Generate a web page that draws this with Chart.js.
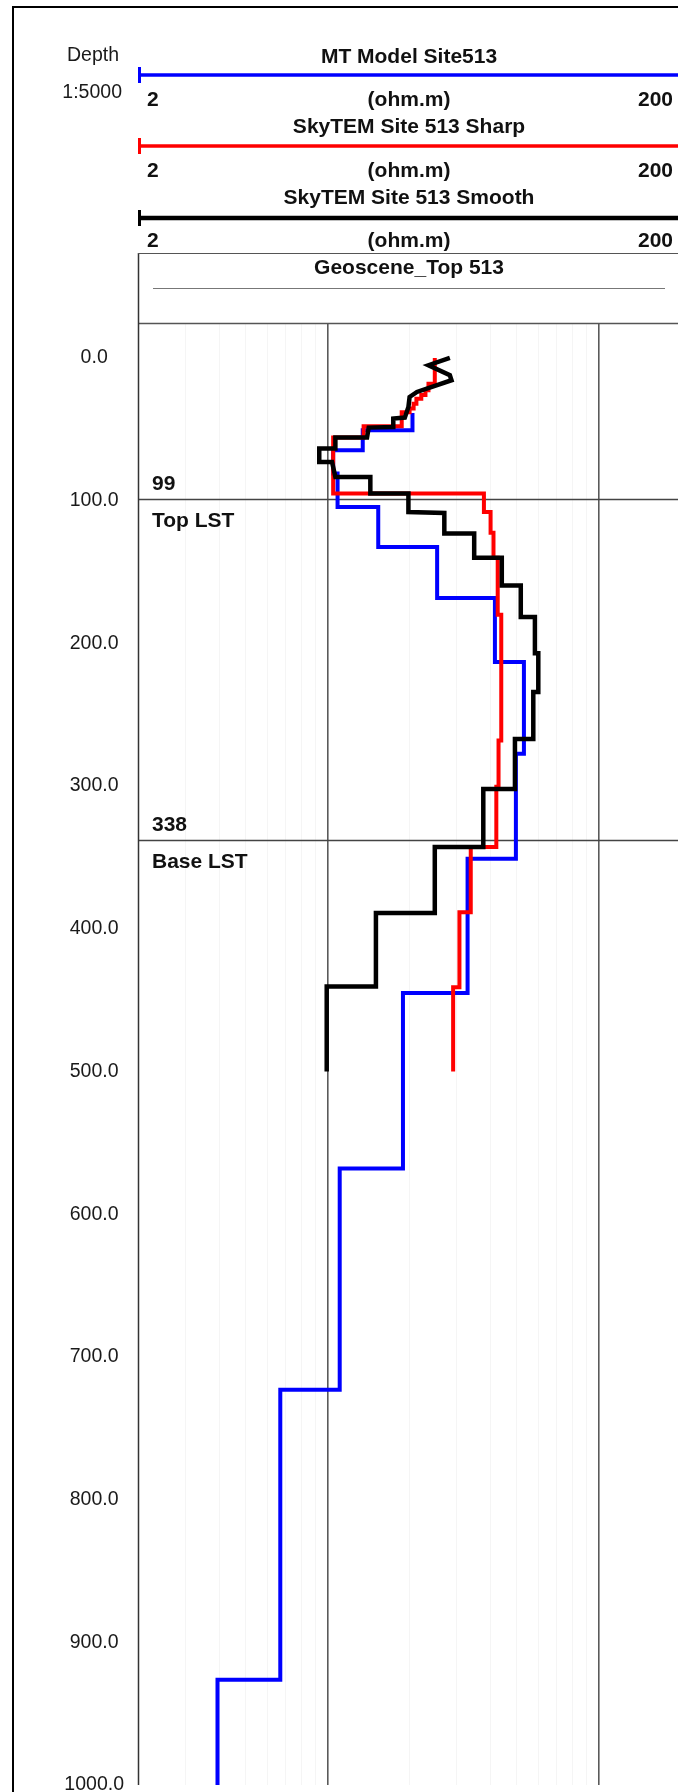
<!DOCTYPE html>
<html>
<head>
<meta charset="utf-8">
<script src="https://cdn.jsdelivr.net/npm/chart.js@4.4.1/dist/chart.umd.min.js"></script>
<style>
  html, body { margin: 0; padding: 0; overflow: hidden; background: #fff; }
  #wrap { width: 678px; height: 1792px; overflow: hidden; position: relative; }
  canvas { display: block; }
</style>
</head>
<body>
<div id="wrap"><canvas id="log" width="680" height="1792"></canvas></div>
<script>
// ---- axes ----
const resMin = 2, resMax = 200;              // ohm.m, log scale
const depthMin = -24.5, depthMax = 1000;     // m, increasing downwards
const depthTicks = [0, 100, 200, 300, 400, 500, 600, 700, 800, 900, 1000];
const resGridValues = [2, 3, 4, 5, 6, 7, 8, 9, 10, 20, 30, 40, 50, 60, 70, 80, 90, 100, 200];
const resMajorGrid = [10, 100];

// ---- MT Model Site513: layer tops (m) and resistivity (ohm.m) ----
const mtTops = [38.5, 50.7, 64.6, 81, 104.5, 132.4, 168.2, 213, 277.3, 351, 445, 568, 723, 926.3];
const mtRes  = [20.6, 13.5, 10.5, 10.9, 15.4, 25.4, 41.5, 53.1, 49.6, 32.9, 19.0, 11.1, 6.7, 3.93];
const mtBase = 1000;

// ---- SkyTEM Site 513 Sharp: layer tops (m) and resistivity (ohm.m) ----
const sharpTops = [0, 18, 22.6, 26, 28.5, 32, 35.5, 38, 47.9, 55.8, 95, 108, 122.5, 140, 180, 268, 300.5, 342.7, 388.5, 441];
const sharpRes  = [24.9, 23.6, 23.0, 22.2, 21.3, 20.8, 20.1, 18.8, 13.6, 10.5, 37.8, 40.0, 41.0, 42.5, 43.8, 42.8, 42.0, 33.8, 30.7, 29.1];
const sharpBase = 500;

// ---- SkyTEM Site 513 Smooth: curve vertices, depth (m) and resistivity (ohm.m) ----
const smoothDepth = [0, 5.1, 12.1, 15.6, 20.3, 23.8, 27.3, 34.3, 41.8, 42.5,
  48.4, 48.8, 55.8, 55.8, 63.5, 63.5, 72.9, 72.9, 83.4, 83.4,
  95, 95, 108, 108.6, 123, 123, 140, 140, 159.5, 159.5,
  181.5, 181.5, 207, 207, 234, 234, 267, 267, 302, 302,
  342.7, 342.7, 389, 389, 440.5, 440.5, 500];
const smoothRes = [28.3, 23.6, 28.3, 28.7, 24.3, 21.4, 20.1, 19.9, 19.3, 17.5,
  17.5, 14.2, 14.0, 10.7, 10.7, 9.33, 9.33, 10.4, 10.7, 14.4,
  14.4, 19.9, 19.9, 27.0, 27.0, 34.8, 34.8, 44.0, 44.0, 51.7,
  51.7, 58.3, 58.3, 60.0, 60.0, 57.5, 57.5, 49.2, 49.2, 37.6,
  37.6, 24.9, 24.9, 15.1, 15.1, 9.94, 9.94];

// ---- formation picks (Geoscene_Top 513) ----
const formationDepths = [99, 338];
const formationNames = ['Top LST', 'Base LST'];

// ---- track headers ----
const trackTitles = ['MT Model Site513', 'SkyTEM Site 513 Sharp', 'SkyTEM Site 513 Smooth'];
const trackColors = ['#0000ff', '#ff0000', '#000000'];
const resUnit = '(ohm.m)';

const FONT = '"Liberation Sans", Arial, Helvetica, sans-serif';

// blocky layer model -> polyline vertices
function layerPoints(tops, res, base) {
  const pts = [];
  for (let i = 0; i < tops.length; i++) {
    const bottom = i + 1 < tops.length ? tops[i + 1] : base;
    pts.push({ x: res[i], y: tops[i] });
    pts.push({ x: res[i], y: bottom });
  }
  return pts;
}

const headerPlugin = {
  id: 'logHeader',
  beforeDatasetsDraw(chart) {
    const ctx = chart.ctx, a = chart.chartArea, ys = chart.scales.y;
    ctx.save();
    // formation picks
    ctx.strokeStyle = '#444';
    ctx.lineWidth = 1.5;
    ctx.fillStyle = '#111';
    ctx.font = 'bold 21px ' + FONT;
    ctx.textAlign = 'left';
    ctx.textBaseline = 'alphabetic';
    formationDepths.forEach((d, i) => {
      const y = Math.round(ys.getPixelForValue(d)) + 0.5;
      ctx.beginPath();
      ctx.moveTo(a.left, y);
      ctx.lineTo(a.right, y);
      ctx.stroke();
      ctx.fillText(String(d), a.left + 14, y - 10);
      ctx.fillText(formationNames[i], a.left + 14, y + 27);
    });
    // track frame: top of plot and left edge
    ctx.strokeStyle = '#555';
    ctx.lineWidth = 1.5;
    ctx.beginPath();
    ctx.moveTo(a.left, a.top + 0.5);
    ctx.lineTo(a.right, a.top + 0.5);
    ctx.stroke();
    ctx.strokeStyle = '#333';
    ctx.beginPath();
    ctx.moveTo(a.left + 0.5, 253);
    ctx.lineTo(a.left + 0.5, a.bottom);
    ctx.stroke();
    ctx.restore();
  },
  afterDraw(chart) {
    const ctx = chart.ctx, a = chart.chartArea;
    const L = a.left, R = a.right, C = (L + R) / 2;
    ctx.save();
    // outer frame
    ctx.strokeStyle = '#000';
    ctx.lineWidth = 2;
    ctx.beginPath();
    ctx.moveTo(13, chart.height);
    ctx.lineTo(13, 7);
    ctx.lineTo(chart.width, 7);
    ctx.stroke();

    // depth column header
    ctx.fillStyle = '#1a1a1a';
    ctx.font = '19.5px ' + FONT;
    ctx.textAlign = 'right';
    ctx.textBaseline = 'alphabetic';
    ctx.fillText('Depth', 119, 61);
    ctx.fillText('1:5000', 122, 98);

    // curve headers
    const titleY = [63, 133, 204];
    const barY = [75, 146, 218];
    const barW = [3.5, 3.5, 4.5];
    const unitY = [106, 177, 247];
    trackTitles.forEach((t, i) => {
      ctx.fillStyle = '#111';
      ctx.font = 'bold 21px ' + FONT;
      ctx.textAlign = 'center';
      ctx.fillText(t, C, titleY[i]);
      ctx.strokeStyle = trackColors[i];
      ctx.lineWidth = barW[i];
      ctx.beginPath();
      ctx.moveTo(L, barY[i]);
      ctx.lineTo(R, barY[i]);
      ctx.stroke();
      ctx.lineWidth = 3;
      ctx.beginPath();
      ctx.moveTo(L + 1.5, barY[i] - 8);
      ctx.lineTo(L + 1.5, barY[i] + 8);
      ctx.stroke();
      ctx.fillStyle = '#111';
      ctx.textAlign = 'left';
      ctx.fillText(String(resMin), L + 9, unitY[i]);
      ctx.textAlign = 'center';
      ctx.fillText(resUnit, C, unitY[i]);
      ctx.textAlign = 'right';
      ctx.fillText(String(resMax), R - 7, unitY[i]);
    });

    // formation track header box
    ctx.strokeStyle = '#555';
    ctx.lineWidth = 1;
    ctx.beginPath();
    ctx.moveTo(L, 253.5);
    ctx.lineTo(R, 253.5);
    ctx.stroke();
    ctx.fillStyle = '#111';
    ctx.font = 'bold 21px ' + FONT;
    ctx.textAlign = 'center';
    ctx.fillText('Geoscene_Top 513', C, 274);
    ctx.strokeStyle = '#777';
    ctx.beginPath();
    ctx.moveTo(L + 15, 288.5);
    ctx.lineTo(R - 15, 288.5);
    ctx.stroke();
    ctx.restore();
  }
};

const lineStyle = {
  pointRadius: 0,
  tension: 0,
  fill: false,
  borderJoinStyle: 'miter',
  borderCapStyle: 'butt'
};

new Chart(document.getElementById('log'), {
  type: 'line',
  data: {
    datasets: [
      Object.assign({ label: trackTitles[0], data: layerPoints(mtTops, mtRes, mtBase),
        borderColor: trackColors[0], borderWidth: 4, order: 3 }, lineStyle),
      Object.assign({ label: trackTitles[1], data: layerPoints(sharpTops, sharpRes, sharpBase),
        borderColor: trackColors[1], borderWidth: 4, order: 2 }, lineStyle),
      Object.assign({ label: trackTitles[2], data: smoothRes.map((r, i) => ({ x: r, y: smoothDepth[i] })),
        borderColor: trackColors[2], borderWidth: 4.5, order: 1 }, lineStyle)
    ]
  },
  options: {
    responsive: false,
    animation: false,
    devicePixelRatio: 1,
    layout: { padding: { top: 323, bottom: 7, left: 0, right: 0 } },
    plugins: { legend: { display: false }, tooltip: { enabled: false } },
    scales: {
      x: {
        type: 'logarithmic',
        position: 'top',
        min: resMin,
        max: resMax,
        afterBuildTicks: s => { s.ticks = resGridValues.map(v => ({ value: v })); },
        afterFit: s => { s.height = 0; s.paddingLeft = 0; s.paddingRight = 0; },
        ticks: { display: false },
        border: { display: false },
        grid: {
          drawTicks: false,
          color: c => resMajorGrid.includes(c.tick.value) ? '#5a5a5a'
            : (c.tick.value === resMin || c.tick.value === resMax ? 'rgba(0,0,0,0)' : 'rgba(0,0,0,0.04)'),
          lineWidth: c => resMajorGrid.includes(c.tick.value) ? 1.6 : 1
        }
      },
      y: {
        type: 'linear',
        reverse: true,
        min: depthMin,
        max: depthMax,
        afterBuildTicks: s => { s.ticks = depthTicks.map(v => ({ value: v })); },
        // fixed axis width; end labels may overhang the plot area
        afterFit: s => { s.width = 138; s.paddingTop = 0; s.paddingBottom = 0; },
        border: { display: false },
        grid: { display: false, drawTicks: false },
        ticks: {
          callback: v => Number(v).toFixed(1),
          font: { family: FONT, size: 19.5 },
          color: '#1a1a1a',
          crossAlign: 'center',
          padding: 14,
          autoSkip: false
        }
      }
    }
  },
  plugins: [headerPlugin]
});
</script>
</body>
</html>
